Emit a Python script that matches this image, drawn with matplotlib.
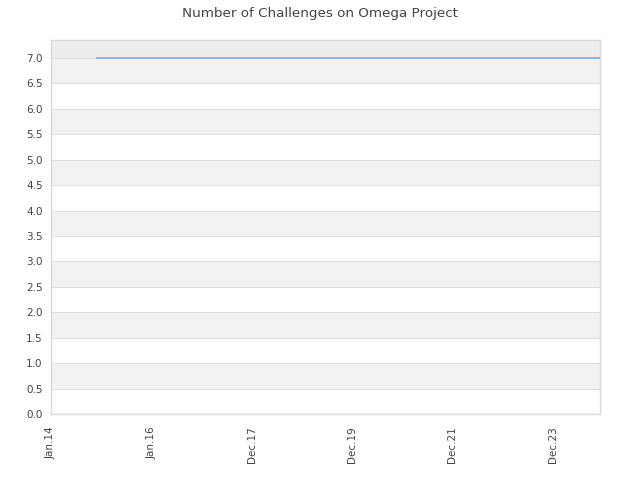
import matplotlib
matplotlib.use("Agg")
import matplotlib.pyplot as plt
import matplotlib.dates as mdates
import numpy as np
import datetime as dt

dates = ["2014-12-01", "2015-06-01", "2016-01-01", "2017-01-01", "2018-01-01",
         "2019-01-01", "2020-01-01", "2021-01-01", "2022-01-01", "2023-01-01",
         "2024-01-01", "2024-12-09"]
challenges = [7, 7, 7, 7, 7, 7, 7, 7, 7, 7, 7, 7]

tick_dates = ["2014-01-01", "2016-01-01", "2017-12-31", "2019-12-31", "2021-12-30", "2023-12-30"]
tick_labels = ["Jan.14", "Jan.16", "Dec.17", "Dec.19", "Dec.21", "Dec.23"]

x = [dt.datetime.strptime(d, "%Y-%m-%d") for d in dates]
tx = [dt.datetime.strptime(d, "%Y-%m-%d") for d in tick_dates]

fig = plt.figure(figsize=(6.4, 4.8), dpi=100)
ax = fig.add_axes([51/640, 66/480, 549/640, 374/480])

ymax = 7.354
xmin = dt.datetime(2014, 1, 1)
xmax = dt.datetime(2024, 12, 9)

# alternating bands
for i in range(15):
    lo = i * 0.5
    hi = min(lo + 0.5, ymax)
    if lo >= 7.0:
        ax.axhspan(lo, hi, color="#ededed", zorder=0, lw=0)
    elif i % 2 == 1:
        ax.axhspan(lo, hi, color="#f2f2f2", zorder=0, lw=0)

ax.plot(x, challenges, color="#7cb5ec", lw=1.3, zorder=3, drawstyle="steps-post")

ax.set_xlim(xmin, xmax)
ax.set_ylim(0, ymax)
ax.set_yticks(np.arange(0, 7.01, 0.5))
ax.set_yticklabels([f"{v:.1f}" for v in np.arange(0, 7.01, 0.5)])
ax.set_xticks(mdates.date2num(tx))
ax.set_xticklabels(tick_labels, rotation=90)
ax.grid(axis="y", color="#e0e0e0", lw=0.8, zorder=1)
ax.set_axisbelow(True)
for s in ax.spines.values():
    s.set_color("#d8d8d8")
    s.set_linewidth(1)
ax.tick_params(axis="both", length=0, labelsize=7.5, labelcolor="#444444", pad=6)
ax.tick_params(axis="x", pad=9)

fig.suptitle("Number of Challenges on Omega Project", y=0.985, fontsize=9.7, color="#444444")
fig.savefig("out.png", dpi=100)
